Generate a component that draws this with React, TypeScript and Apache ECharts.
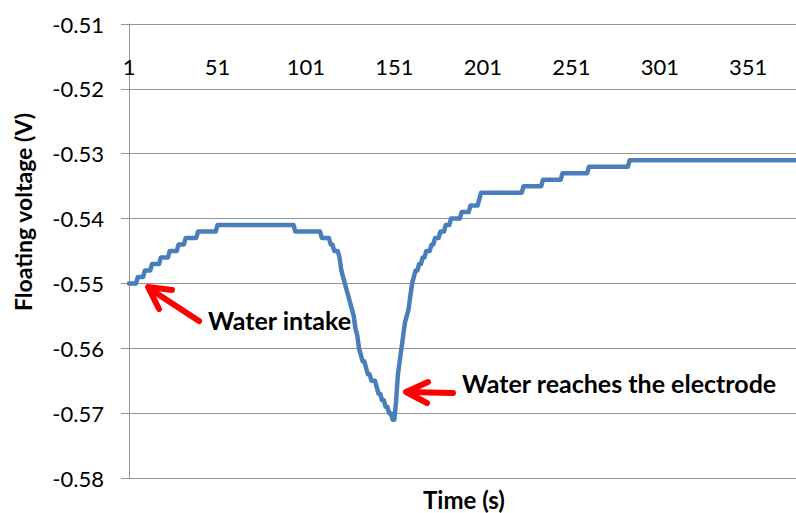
import React, { useEffect, useRef } from "react";
import * as echarts from "echarts";

// ---- Data (floating voltage, V) ----
const startLevels = [-0.55, -0.549, -0.548, -0.547, -0.546, -0.545, -0.544, -0.543, -0.542, -0.541, -0.542, -0.543];
const startCounts = [5, 4, 4, 5, 5, 5, 4, 7, 11, 44, 15, 5];

const dipValues = [
  -0.544, -0.544, -0.545, -0.545, -0.545, -0.546, -0.548, -0.549, -0.55, -0.551,
  -0.552, -0.553, -0.554, -0.555, -0.557, -0.558, -0.56, -0.561, -0.562, -0.562,
  -0.563, -0.564, -0.564, -0.565, -0.565, -0.565, -0.566, -0.567, -0.567, -0.568,
  -0.568, -0.569, -0.569, -0.57, -0.57, -0.571, -0.571,
  -0.568, -0.564, -0.562, -0.56, -0.558, -0.556, -0.555, -0.554, -0.552, -0.55,
  -0.549, -0.548, -0.548, -0.547, -0.547, -0.546, -0.546, -0.545, -0.545, -0.545,
  -0.544, -0.544, -0.543, -0.543, -0.543, -0.542, -0.542, -0.542, -0.541, -0.541,
  -0.541,
];

const endLevels = [-0.54, -0.539, -0.538, -0.537, -0.536, -0.535, -0.534, -0.533, -0.532, -0.531];
const endCounts = [6, 5, 5, 1, 24, 11, 11, 15, 23, 95];

const yTicks = { min: -0.58, max: -0.51, interval: 0.01 };
const xLabelStep = 50;

function expandRuns(levels: number[], counts: number[]): number[] {
  const out: number[] = [];
  levels.forEach((v, i) => {
    for (let k = 0; k < counts[i]; k++) out.push(v);
  });
  return out;
}

const voltage: number[] = [
  ...expandRuns(startLevels, startCounts),
  ...dipValues,
  ...expandRuns(endLevels, endCounts),
];
const categories: string[] = voltage.map((_, i) => String(i + 1));

const FONT = "Lato, 'Noto Sans', sans-serif";
const RED = "#FF0000";

export default function App() {
  const ref = useRef<HTMLDivElement>(null);

  useEffect(() => {
    if (!ref.current) return;
    const chart = echarts.init(ref.current, undefined, { renderer: "svg" });
    const arrowStyle = {
      stroke: RED,
      lineWidth: 6,
      lineCap: "round",
      lineJoin: "round",
      fill: null,
    };
    const textStyle = (text: string, size: number, align: string) => ({
      text,
      font: `bold ${size}px ${FONT}`,
      fill: "#000",
      align,
      verticalAlign: "middle",
      textAlign: align,
      textVerticalAlign: "middle",
    });
    chart.setOption({
      animation: false,
      backgroundColor: "#ffffff",
      grid: { left: 129, right: 0, top: 24, bottom: 35, containLabel: false },
      xAxis: {
        type: "category",
        position: "top",
        data: categories,
        boundaryGap: false,
        axisLine: { show: false },
        axisTick: { show: false },
        splitLine: { show: false },
        axisLabel: {
          inside: true,
          interval: (index: number) => index % xLabelStep === 0,
          hideOverlap: false,
          margin: 31,
          color: "#000",
          fontFamily: FONT,
          fontSize: 22,
        },
      },
      yAxis: {
        type: "value",
        min: yTicks.min,
        max: yTicks.max,
        interval: yTicks.interval,
        axisLine: { show: true, lineStyle: { color: "#969696", width: 1 } },
        axisTick: { show: true, length: 8, lineStyle: { color: "#969696", width: 1 } },
        splitLine: { show: true, lineStyle: { color: "#969696", width: 1 } },
        axisLabel: {
          margin: 25,
          color: "#000",
          fontFamily: FONT,
          fontSize: 22,
          formatter: (v: number) => v.toFixed(2),
        },
      },
      series: [
        {
          type: "line",
          data: voltage,
          showSymbol: false,
          symbol: "none",
          lineStyle: { color: "#4A7EBB", width: 4.5, join: "round", cap: "round" },
          itemStyle: { color: "#4A7EBB" },
        },
      ],
      graphic: [
        {
          type: "text",
          x: 23,
          y: 212,
          rotation: Math.PI / 2,
          style: textStyle("Floating voltage (V)", 23, "center"),
        },
        {
          type: "text",
          x: 464,
          y: 499,
          style: textStyle("Time (s)", 24, "center"),
        },
        {
          type: "text",
          x: 208,
          y: 320,
          style: textStyle("Water intake", 25, "left"),
        },
        {
          type: "text",
          x: 462,
          y: 383,
          style: textStyle("Water reaches the electrode", 25, "left"),
        },
        {
          type: "polyline",
          shape: { points: [[199, 321], [150, 289]] },
          style: arrowStyle,
        },
        {
          type: "polyline",
          shape: { points: [[172, 290], [148, 287], [159, 309]] },
          style: arrowStyle,
        },
        {
          type: "polyline",
          shape: { points: [[453, 393], [407, 392]] },
          style: arrowStyle,
        },
        {
          type: "polyline",
          shape: { points: [[428, 382], [406, 392], [427, 403]] },
          style: arrowStyle,
        },
      ],
    });
    return () => chart.dispose();
  }, []);

  return (
    <div
      ref={ref}
      style={{ position: "fixed", left: 0, top: 0, width: 796, height: 513, background: "#fff" }}
    />
  );
}
